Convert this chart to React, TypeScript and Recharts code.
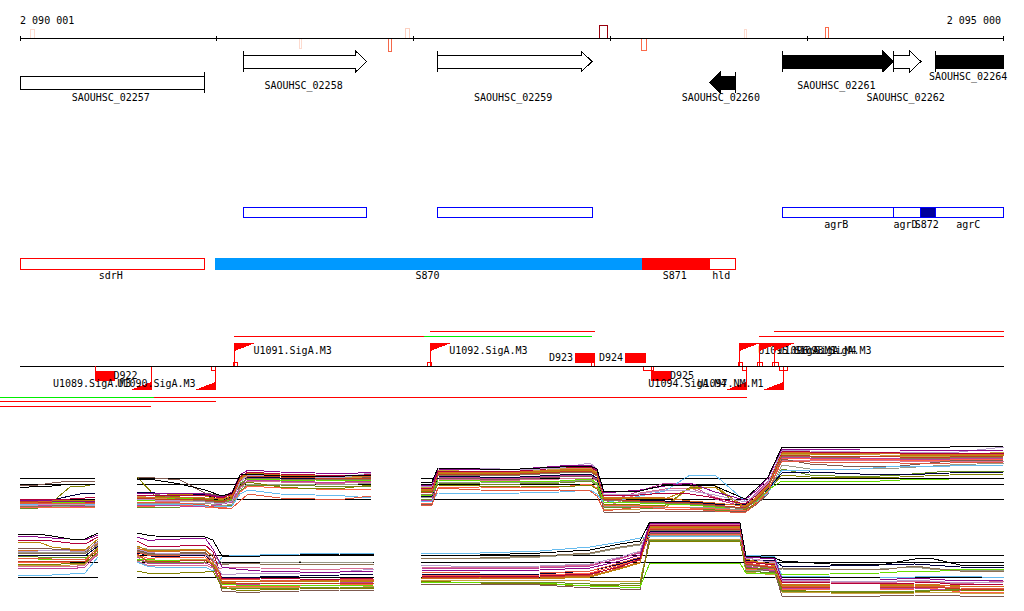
import React from 'react';
import { ComposedChart, Line, XAxis, YAxis, ReferenceArea, ReferenceLine, ReferenceDot } from 'recharts';

// window of the genome shown, in bp
const viewStart = 2089899;
const viewEnd = 2095102;
const rulerStart = 2090001;
const rulerEnd = 2095000;
const rulerTicks = [2090001, 2091000, 2092000, 2093000, 2094000, 2095000];

const genes = [
  { name: 'SAOUHSC_02257', start: 2090001, end: 2090938, strand: -1, truncated: true },
  { name: 'SAOUHSC_02258', start: 2091136, end: 2091762, strand: 1, truncated: false },
  { name: 'SAOUHSC_02259', start: 2092121, end: 2092907, strand: 1, truncated: false },
  { name: 'SAOUHSC_02260', start: 2093503, end: 2093635, strand: -1, truncated: false },
  { name: 'SAOUHSC_02261', start: 2093874, end: 2094438, strand: 1, truncated: false },
  { name: 'SAOUHSC_02262', start: 2094438, end: 2094578, strand: 1, truncated: false },
  { name: 'SAOUHSC_02264', start: 2094651, end: 2095000, strand: 1, truncated: true },
];
const solidGenes = ['SAOUHSC_02260', 'SAOUHSC_02261', 'SAOUHSC_02264'];
const lowerLaneGenes = ['SAOUHSC_02257', 'SAOUHSC_02260'];
const geneLabelRows: Record<string, number> = {
  SAOUHSC_02257: 97, SAOUHSC_02258: 85, SAOUHSC_02259: 97, SAOUHSC_02260: 97,
  SAOUHSC_02261: 85, SAOUHSC_02262: 97, SAOUHSC_02264: 76,
};

// probes on the ruler, score above (+) or below (-) the line
const rulerMarks = [
  { start: 2090056, end: 2090072, score: 9, color: '#fddbcf' },
  { start: 2091421, end: 2091433, score: -10, color: '#fddbcf' },
  { start: 2091871, end: 2091888, score: -13, color: '#f4684a' },
  { start: 2091961, end: 2091979, score: 10, color: '#fcd0c0' },
  { start: 2092945, end: 2092986, score: 13, color: '#99000d' },
  { start: 2093157, end: 2093183, score: -12, color: '#fb6a4a' },
  { start: 2093680, end: 2093694, score: 9, color: '#fddbcf' },
  { start: 2094092, end: 2094109, score: 11, color: '#fb6a4a' },
];

const blueBoxes = [
  { name: '', start: 2091136, end: 2091762 },
  { name: '', start: 2092121, end: 2092907 },
  { name: 'agrB', start: 2093874, end: 2094438 },
  { name: 'agrD', start: 2094438, end: 2094578 },
  { name: 'agrC', start: 2094653, end: 2095000 },
];
const blueFilled = [{ name: 'S872', start: 2094578, end: 2094653 }];
const redRegions = [
  { name: 'sdrH', start: 2090001, end: 2090938, color: '#ffffff' },
  { name: 'S870', start: 2090992, end: 2093166, color: '#0099ff' },
  { name: 'S871', start: 2093166, end: 2093504, color: '#ff0000' },
  { name: 'hld', start: 2093504, end: 2093638, color: '#ffffff' },
];

const promoters = [
  { name: 'U1089.SigA.M3', pos: 2090668, strand: -1 },
  { name: 'U1090.SigA.M3', pos: 2090995, strand: -1 },
  { name: 'U1091.SigA.M3', pos: 2091090, strand: 1 },
  { name: 'U1092.SigA.M3', pos: 2092085, strand: 1 },
  { name: 'U1094.SigA.M4', pos: 2093693, strand: -1 },
  { name: 'U1095.SigA.M1', pos: 2093655, strand: 1 },
  { name: 'U1096.SigA.M4', pos: 2093757, strand: 1 },
  { name: 'U1097.NM.M1', pos: 2093881, strand: -1 },
  { name: 'U1098.SigA.M3', pos: 2093833, strand: 1 },
];
const flagLength = 107;

const smallRna = [
  { name: 'D922', start: 2090384, end: 2090481, strand: -1 },
  { name: 'D923', start: 2092821, end: 2092922, strand: 1 },
  { name: 'D924', start: 2093075, end: 2093180, strand: 1 },
  { name: 'D925', start: 2093207, end: 2093308, strand: -1 },
];

const siteBoxes = [
  { start: 2090976, end: 2090995, strand: -1 },
  { start: 2091086, end: 2091106, strand: 1 },
  { start: 2092069, end: 2092092, strand: 1 },
  { start: 2092905, end: 2092922, strand: 1 },
  { start: 2093168, end: 2093207, strand: -1 },
  { start: 2093207, end: 2093220, strand: -1 },
  { start: 2093674, end: 2093694, strand: -1 },
  { start: 2093649, end: 2093672, strand: 1 },
  { start: 2093750, end: 2093775, strand: 1 },
  { start: 2093823, end: 2093834, strand: 1 },
  { start: 2093834, end: 2093855, strand: 1 },
  { start: 2093862, end: 2093881, strand: -1 },
  { start: 2093881, end: 2093901, strand: -1 },
];

const spanLines = [
  { start: 2092085, end: 2092922, row: 331, color: '#ff0000' },
  { start: 2093833, end: 2095000, row: 331, color: '#ff0000' },
  { start: 2091090, end: 2092055, row: 336, color: '#ff0000' },
  { start: 2092055, end: 2092905, row: 336, color: '#00ee00' },
  { start: 2093757, end: 2095000, row: 336, color: '#ff0000' },
  { start: 2089899, end: 2090684, row: 397, color: '#00ee00' },
  { start: 2090684, end: 2093693, row: 397, color: '#ff0000' },
  { start: 2089899, end: 2090995, row: 401, color: '#ff0000' },
  { start: 2089899, end: 2090668, row: 406, color: '#ff0000' },
];

// expression profiles, one row per strain, one column per sample position
const strainColors = [
  '#000000', '#8b0a8b', '#b89ccc', '#b3003c', '#d2691e', '#b8860b', '#e2583e', '#c23b22', '#8b7355', '#66dd00',
  '#00003c', '#66bbee', '#808000', '#c0409a', '#7f5a50', '#ff6347', '#999988', '#6b8e23', '#d87093', '#c8a040',
];

const topPosA = [2090001, 2090092, 2090164, 2090255, 2090331, 2090382];
const topPosB = [2090595, 2090687, 2090814, 2090941, 2091027, 2091078, 2091119, 2091159, 2091322, 2091500, 2091652, 2091784];
const topPosC = [2092038, 2092094, 2092124, 2092338, 2092541, 2092744, 2092897, 2092932, 2092968, 2093151, 2093278, 2093405, 2093532, 2093684, 2093745, 2093801, 2093872, 2094014, 2094268, 2094471, 2094725, 2095000];

const topLevelsA = [
  [11, 13, 13, 15, 15, 15], [-2, -1, -2, -2, -3, -2], [-6, -6, -5, -5, -6, -6], [0, -1, 0, 0, 1, 2], [-3, -3, -2, -3, -2, -3],
  [-1, -2, -2, -1, -1, -1], [-4, -4, -4, -4, -4, -4], [-2, -3, -3, -2, -3, -3], [-7, -7, -7, -6, -7, -7], [-3, -4, -3, -3, -3, -4],
  [-1, -1, -1, 3, 6, 6], [-5, -5, -6, -5, -5, -5], [-5, -4, -3, 12, 13, 15], [-6, -6, -6, -7, -8, -6], [14, 14, 16, 18, 18, 18],
  [-8, -8, -8, -8, -8, -8], [-7, -6, -7, -7, -6, -8], [-9, -9, -8, -9, -7, -9], [-4, -5, -5, -5, -5, -5], [-3, -3, -4, -4, -4, -3],
];
const topLevelsB = [
  [20, 19, 15, 9, 3, 6, 24, 25, 23, 22, 23, 24], [5, 6, 6, 5, 2, 7, 24, 29, 27, 26, 25, 27], [0, -1, -2, -3, -5, -2, 17, 24, 23, 22, 22, 26],
  [3, 4, 3, 4, 1, 5, 22, 27, 25, 24, 23, 25], [2, 2, 2, 1, 0, 3, 20, 25, 24, 23, 23, 23], [4, 3, 5, 3, -1, 4, 21, 26, 24, 24, 22, 24],
  [-3, -3, -4, -6, -10, -9, -2, 5, 1, 0, 0, 3], [1, 0, 0, -1, -3, 1, 18, 23, 22, 21, 21, 21], [6, 5, 0, -2, -4, -1, 15, 21, 20, 19, 20, 20],
  [-1, -1, 1, -1, -3, 0, 16, 20, 19, 19, 18, 19], [7, 6, 6, 4, -1, 3, 18, 22, 21, 20, 20, 20], [-5, -5, -5, -7, -8, -7, 5, 9, 5, 4, 3, 1],
  [22, 3, 2, 0, -2, 2, 13, 17, 12, 10, 11, 14], [-6, -6, -7, -8, -5, -3, 12, 19, 18, 17, 17, 18], [22, 21, 19, 6, 3, 4, 12, 22, 21, 20, 19, 22],
  [-7, -7, -6, -8, -9, -7, 7, 13, 11, 10, 9, 10], [-4, -4, -4, -4, -7, -5, 10, 15, 15, 15, 14, 16], [-8, -8, -8, -7, -8, -6, 8, 14, 14, 13, 13, 12],
  [-1, -2, -2, -3, -4, -3, 11, 18, 17, 16, 16, 17], [3, 1, -1, -2, -3, 1, 19, 24, 23, 22, 21, 22],
];
const topLevelsC = [
  [16, 17, 31, 30, 30, 32, 33, 30, 7, 8, 14, 14, 13, 0, 11, 22, 52, 52, 52, 52, 52, 53],
  [14, 14, 30, 29, 30, 33, 34, 29, 6, 9, 13, 16, 7, -1, 9, 21, 50, 50, 49, 49, 48, 49],
  [12, 13, 31, 31, 29, 31, 36, 30, 4, 5, 9, 8, 4, -3, 5, 16, 49, 48, 47, 47, 46, 52],
  [10, 11, 28, 28, 28, 31, 32, 28, 3, 4, 6, 5, 1, -5, 4, 15, 48, 47, 47, 46, 46, 46],
  [8, 9, 27, 27, 27, 29, 30, 26, 2, 2, 1, -2, -4, -7, 2, 14, 47, 46, 46, 45, 45, 45],
  [9, 10, 26, 26, 26, 28, 29, 25, 1, 1, 0, 10, 12, -8, 1, 13, 46, 45, 44, 44, 44, 44],
  [-6, -6, 11, 9, 8, 9, 8, 3, -12, -8, -10, -10, -12, -14, -4, 8, 38, 37, 37, 36, 36, 37],
  [6, 7, 25, 25, 25, 27, 28, 24, 0, -2, -3, -4, -6, -9, 0, 12, 44, 43, 43, 42, 42, 43],
  [5, 5, 24, 24, 24, 26, 27, 23, -1, -3, -4, -5, -7, -10, -1, 11, 43, 42, 41, 41, 41, 42],
  [4, 4, 19, 18, 18, 18, 20, 16, -3, -4, -5, -6, -8, -9, -2, 9, 18, 18, 17, 19, 20, 20],
  [3, 3, 23, 22, 22, 24, 25, 21, -2, -1, -2, -3, -5, -6, 1, 10, 26, 27, 25, 24, 26, 27],
  [-3, -2, 6, 5, 6, 7, 9, 5, -4, 3, 8, 24, 24, -2, -3, 6, 29, 29, 30, 33, 33, 34],
  [7, 8, 14, 13, 13, 12, 14, 10, -5, -6, -7, 12, 12, -11, -4, 8, 24, 22, 21, 22, 24, 25],
  [-2, -1, 22, 21, 21, 23, 24, 20, -4, 8, 16, 15, 0, -8, 7, 18, 42, 41, 41, 40, 40, 41],
  [-6, -5, 21, 20, 20, 22, 23, 19, -13, -13, -12, -12, -12, -13, -5, 5, 40, 35, 32, 33, 38, 39],
  [-4, -4, 11, 12, 11, 12, 15, 11, -6, -7, -8, -9, -10, -12, -3, 7, 41, 40, 40, 39, 39, 40],
  [1, 2, 17, 17, 16, 17, 19, 15, -7, -8, -9, -8, -9, -11, -4, 6, 34, 30, 30, 31, 34, 36],
  [0, 0, 16, 15, 15, 16, 18, 14, -8, -9, -10, -10, -11, -12, -5, 6, 30, 24, 22, 24, 28, 28],
  [2, 1, 20, 19, 19, 20, 21, 18, -9, 6, 10, 11, 2, -7, 6, 17, 39, 39, 39, 38, 38, 38],
  [11, 12, 29, 27, 27, 30, 31, 27, -10, -10, -9, 12, 14, -10, 3, 14, 45, 44, 45, 43, 43, 47],
];

const bottomPosA = [2089991, 2090092, 2090164, 2090255, 2090331, 2090397];
const bottomPosB = [2090595, 2090646, 2090687, 2090941, 2090981, 2091027, 2091098, 2091220, 2091423, 2091627, 2091799];
const bottomPosC = [2092038, 2092338, 2092643, 2092897, 2093049, 2093151, 2093201, 2093455, 2093659, 2093689, 2093836, 2093872, 2094116, 2094370, 2094548, 2094624, 2094776, 2095000];

const bottomLevelsA = [
  [43, 43, 41, 38, 38, 44], [41, 40, 39, 38, 37, 42], [26, 26, 27, 26, 26, 35], [37, 37, 36, 34, 33, 40], [27, 27, 26, 27, 26, 34],
  [34, 35, 30, 28, 27, 38], [19, 19, 18, 18, 17, 30], [16, 16, 15, 16, 15, 28], [24, 24, 23, 24, 23, 33], [19, 18, 18, 17, 18, 29],
  [22, 22, 22, 22, 21, 31], [2, 2, 2, 3, 4, 20], [13, 13, 12, 14, 14, 25], [9, 9, 9, 8, 10, 23], [28, 29, 28, 27, 25, 36],
  [15, 15, 14, 15, 16, 27], [25, 25, 24, 25, 24, 32], [21, 20, 20, 20, 19, 26], [11, 11, 11, 10, 12, 24], [12, 12, 11, 12, 13, 22],
];
const bottomLevelsB = [
  [44, 42, 41, 40, 37, 21, 21, 21, 22, 23, 23], [40, 37, 37, 39, 28, 10, 8, 6, 5, 5, 6], [28, 25, 24, 22, 18, 2, 3, 4, 4, 5, 8],
  [36, 31, 30, 32, 25, -2, -1, -1, -2, -2, -1], [29, 26, 25, 27, 20, -4, -4, -5, -4, -3, -3], [31, 27, 26, 28, 20, -5, -5, -4, -5, -4, -4],
  [25, 22, 21, 23, 15, -3, -2, -3, -3, -2, -2], [23, 16, 15, 17, 12, -6, -6, -6, -7, -6, -6], [26, 23, 22, 24, 16, 12, 14, 13, 13, 13, 13],
  [18, 18, 17, 17, 13, -7, -8, -8, -8, -9, -8], [24, 22, 20, 22, 15, -1, 0, 0, 1, 2, 3], [15, 11, 10, 10, 6, 20, 22, 22, 23, 24, 24],
  [6, 4, 3, 5, 6, -10, -13, -13, -12, -11, -11], [20, 14, 13, 14, 11, -8, -7, -7, -6, -6, -5], [27, 24, 23, 25, 17, -14, -15, -15, -14, -13, -13],
  [22, 19, 19, 20, 13, -9, -9, -9, -9, -8, -7], [30, 28, 28, 26, 22, 14, 13, 14, 15, 14, 15], [17, 15, 14, 15, 10, -11, -11, -12, -11, -10, -10],
  [16, 12, 12, 12, 9, 9, 10, 9, 8, 8, 9], [21, 17, 16, 18, 14, -12, -10, -10, -10, -12, -9],
];
const bottomLevelsC = [
  [21, 22, 24, 27, 33, 36, 55, 55, 54, 21, 19, 16, 13, 12, 18, 19, 12, 11],
  [7, 6, 7, 9, 16, 22, 54, 54, 53, 20, 18, -2, -3, -3, -1, -2, -4, -3],
  [12, 10, 11, 13, 20, 26, 54, 54, 53, 19, 14, -3, -4, -5, -3, -4, -6, -5],
  [1, 0, 1, 3, 10, 18, 52, 52, 51, 15, 12, -5, -6, -7, -6, -5, -8, -7],
  [-1, -2, -1, 1, 9, 15, 51, 51, 50, 16, 13, -7, -8, -8, -7, -7, -10, -9],
  [-2, -1, -2, 0, 8, 14, 50, 50, 50, 18, 11, -8, -9, -9, -8, -8, -9, -10],
  [5, 4, 4, 6, 14, 20, 49, 49, 48, 14, 10, -9, -10, -10, -9, -9, -11, -12],
  [0, -1, 0, 2, 11, 17, 48, 48, 47, 13, 9, -10, -11, -11, -10, -10, -12, -13],
  [19, 19, 21, 24, 30, 33, 47, 47, 46, 12, 8, 9, 8, 7, 11, 9, 6, 6],
  [-5, -6, -6, -9, -10, -10, 14, 14, 14, 4, 3, 2, 3, 4, 6, 5, 8, 8],
  [3, 2, 3, 6, 13, 19, 46, 46, 45, 17, 16, 11, 11, 12, 13, 12, 10, 9],
  [24, 24, 26, 30, 35, 39, 41, 41, 40, 22, 20, 1, 0, 0, 0, 1, 1, -1],
  [-4, -6, -7, -9, -8, -8, 36, 36, 35, 9, 8, -13, -15, -16, -15, -14, -13, -14],
  [9, 8, 9, 11, 19, 24, 45, 45, 44, 11, 6, -11, -12, -12, -11, -12, -14, -11],
  [-7, -7, -8, -11, -12, -13, 44, 44, 43, 10, 5, -19, -19, -19, -18, -18, -19, -19],
  [2, 1, 2, 4, 12, 18, 43, 43, 42, 8, 7, -12, -13, -13, -12, -11, -15, -15],
  [19, 18, 20, 23, 29, 32, 42, 42, 41, 7, 6, 8, 7, 8, 10, 8, 7, 7],
  [-5, -5, -5, -7, -7, -6, 37, 37, 36, 6, 4, -14, -14, -15, -14, -13, -12, -12],
  [10, 9, 10, 12, 18, 25, 53, 53, 52, 19, 15, -4, -5, -6, -4, -5, -7, -4],
  [-3, -3, -3, -4, -5, -4, 38, 38, 37, 5, 2, -15, -16, -17, -16, -15, -16, -16],
];

const topGuides = [0, 15, 21];
const bottomGuides = [0, 15, 22];

const panels = [
  { axis: 'top', guides: topGuides, segments: [
    { pos: topPosA, rows: topLevelsA },
    { pos: topPosB, rows: topLevelsB },
    { pos: topPosC, rows: topLevelsC },
  ] },
  { axis: 'bottom', guides: bottomGuides, segments: [
    { pos: bottomPosA, rows: bottomLevelsA },
    { pos: bottomPosB, rows: bottomLevelsB },
    { pos: bottomPosC, rows: bottomLevelsC },
  ] },
];

const font = { fontFamily: '"DejaVu Sans Mono", monospace', fontSize: 10, fill: '#000' };

function GeneShape({ x, y, width: w, height: h, strand, truncated, solid }: any) {
  const head = truncated ? 0 : 11;
  const inset = 4;
  const top = y + inset;
  const low = y + h - inset;
  const points = strand > 0
    ? [[x, top], [x + w - head, top], [x + w - head, y], [x + w, y + h / 2], [x + w - head, y + h], [x + w - head, low], [x, low]]
    : [[x + w, top], [x + head, top], [x + head, y], [x, y + h / 2], [x + head, y + h], [x + head, low], [x + w, low]];
  const shape = truncated
    ? [[x, top], [x + w, top], [x + w, low], [x, low]]
    : points;
  const tickX = strand > 0 ? x : x + w;
  return (
    <g>
      <polygon points={shape.map((p) => p.join(',')).join(' ')} fill={solid ? '#000' : '#fff'} stroke="#000" />
      <line x1={tickX} x2={tickX} y1={y} y2={y + h} stroke="#000" />
    </g>
  );
}

function FlagShape({ x, y, width: w, height: h, strand, name }: any) {
  if (strand > 0) {
    return (
      <g>
        <polygon points={`${x},${y} ${x + w},${y} ${x},${y + 8}`} fill="#ff0000" />
        <line x1={x} x2={x} y1={y} y2={y + h} stroke="#ff0000" />
        <text x={x + w - 2} y={y + 7} dominantBaseline="central" {...font}>{name}</text>
      </g>
    );
  }
  return (
    <g>
      <polygon points={`${x + w},${y + h} ${x},${y + h} ${x + w},${y + h - 8}`} fill="#ff0000" />
      <line x1={x + w} x2={x + w} y1={y} y2={y + h} stroke="#ff0000" />
      <text x={x + 1} y={y + h - 7} textAnchor="end" dominantBaseline="central" {...font}>{name}</text>
    </g>
  );
}

function label(key: string, x: number, row: number, text: string, anchor = 'middle') {
  const dx = anchor === 'middle' ? -1.5 : 0;
  return (
    <ReferenceDot
      key={key}
      x={x}
      y={row}
      yAxisId="track"
      r={0}
      ifOverflow="visible"
      shape={(p: any) => (
        <text x={p.cx + dx} y={p.cy} textAnchor={anchor} dominantBaseline="central" xmlSpace="preserve" {...font}>{text}</text>
      )}
    />
  );
}

function box(key: string, start: number, end: number, y1: number, y2: number, fill: string, stroke: string) {
  return (
    <ReferenceArea
      key={key}
      x1={start}
      x2={end}
      y1={y1}
      y2={y2}
      yAxisId="track"
      fill={fill}
      fillOpacity={1}
      stroke={stroke}
      strokeOpacity={1}
      ifOverflow="visible"
    />
  );
}

function hline(key: string, start: number, end: number, y1: number, y2: number, color: string, axis = 'track') {
  return (
    <ReferenceLine
      key={key}
      yAxisId={axis}
      segment={[{ x: start, y: y1 }, { x: end, y: y2 }]}
      stroke={color}
      ifOverflow="visible"
    />
  );
}

export default function App() {
  return (
    <div style={{ position: 'absolute', left: 0, top: 0, width: 1024, height: 611, shapeRendering: 'crispEdges' }}>
      <ComposedChart width={1024} height={611} margin={{ top: 0, right: 0, bottom: 0, left: 0 }}>
        <XAxis type="number" dataKey="pos" domain={[viewStart, viewEnd]} allowDataOverflow hide />
        <YAxis yAxisId="track" type="number" domain={[0, 611]} reversed allowDataOverflow hide />
        <YAxis yAxisId="top" type="number" domain={[-112, 499]} allowDataOverflow hide />
        <YAxis yAxisId="bottom" type="number" domain={[-34, 577]} allowDataOverflow hide />

        {/* ruler */}
        {hline('ruler', rulerStart, rulerEnd, 38, 38, '#000')}
        {rulerTicks.map((t) => hline(`tick${t}`, t, t, 36, 41, '#000'))}
        {label('rulerL', rulerStart, 20, '2 090 001', 'start')}
        {label('rulerR', rulerEnd - 15, 20, '2 095 000', 'end')}
        {rulerMarks.map((m) => box(`mark${m.start}`, m.start, m.end, 38, 38 - m.score, '#fff', m.color))}

        {/* genes */}
        {genes.map((g) => {
          const lane = lowerLaneGenes.includes(g.name) ? 72 : 51;
          return (
            <ReferenceArea
              key={g.name}
              x1={g.start}
              x2={g.end}
              y1={lane}
              y2={lane + 21}
              yAxisId="track"
              ifOverflow="visible"
              shape={(p: any) => <GeneShape {...p} strand={g.strand} truncated={g.truncated} solid={solidGenes.includes(g.name)} />}
            />
          );
        })}
        {genes.map((g) => label(`gl${g.name}`, (g.start + g.end) / 2, geneLabelRows[g.name], g.name))}

        {/* blue and red region tracks */}
        {blueBoxes.map((b) => box(`blue${b.start}`, b.start, b.end, 207, 217, '#fff', '#0000ff'))}
        {blueFilled.map((b) => box(`bf${b.start}`, b.start, b.end, 207, 217, '#00009b', '#0000ff'))}
        {[...blueBoxes, ...blueFilled].filter((b) => b.name).map((b) => label(`bl${b.name}`, (b.start + b.end) / 2, 224, b.name))}
        {redRegions.map((r) => box(`red${r.name}`, r.start, r.end, 258, 269, r.color, r.color === '#ffffff' ? '#ff0000' : r.color))}
        {redRegions.map((r) => label(`rl${r.name}`, (r.start + r.end) / 2, 275, r.name))}

        {/* transcription units */}
        {hline('tss', rulerStart, rulerEnd, 366, 366, '#000')}
        {spanLines.map((s) => hline(`span${s.start}${s.row}`, s.start, s.end, s.row, s.row, s.color))}
        {siteBoxes.map((b) => box(`site${b.start}${b.end}`, b.start, b.end, b.strand > 0 ? 362 : 366, b.strand > 0 ? 366 : 370, '#fff', '#ff0000'))}
        {smallRna.map((d) => box(`rna${d.name}`, d.start, d.end, d.strand > 0 ? 353 : 371, d.strand > 0 ? 362 : 380, '#ff0000', '#ff0000'))}
        {hline('d922stem', smallRna[0].start, smallRna[0].start, 366, 371, '#ff0000')}
        {smallRna.map((d) => (d.strand > 0
          ? label(`rnal${d.name}`, d.start - 10, 357, d.name, 'end')
          : label(`rnal${d.name}`, d.end - 5, 375, d.name, 'start')))}
        {promoters.map((u) => (
          <ReferenceArea
            key={u.name}
            x1={u.strand > 0 ? u.pos : u.pos - flagLength}
            x2={u.strand > 0 ? u.pos + flagLength : u.pos}
            y1={u.strand > 0 ? 343 : 366}
            y2={u.strand > 0 ? 366 : 390}
            yAxisId="track"
            ifOverflow="visible"
            shape={(p: any) => <FlagShape {...p} strand={u.strand} name={u.name} />}
          />
        ))}

        {/* expression panels */}
        {panels.map((panel) => panel.segments.map((seg, si) => {
          const first = seg.pos[0];
          const last = seg.pos[seg.pos.length - 1];
          return panel.guides.map((g) => hline(`g${panel.axis}${si}${g}`, first, last, g, g, '#000', panel.axis));
        }))}
        {panels.map((panel) => panel.segments.map((seg, si) => seg.rows.map((_, ri) => {
          const idx = seg.rows.length - 1 - ri;
          const data = seg.pos.map((pos, i) => ({ pos, level: seg.rows[idx][i] }));
          return (
            <Line
              key={`${panel.axis}${si}${idx}`}
              data={data}
              dataKey="level"
              yAxisId={panel.axis}
              stroke={strainColors[idx]}
              strokeWidth={1}
              dot={false}
              activeDot={false}
              legendType="none"
              isAnimationActive={false}
            />
          );
        })))}
      </ComposedChart>
    </div>
  );
}
